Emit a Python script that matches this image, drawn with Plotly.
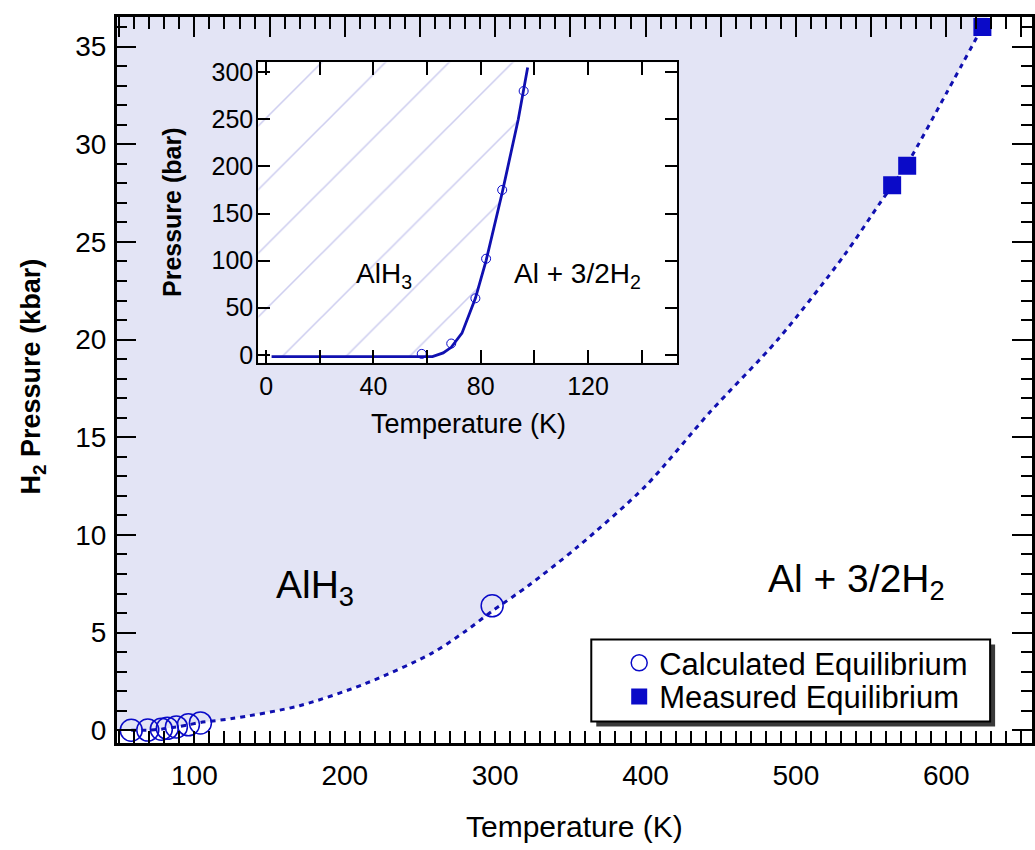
import plotly.graph_objects as go

# ---------------- data ----------------
# main chart (pressure in kbar)
calc_T = [58, 69, 78, 82, 88, 96, 104, 298]
calc_P = [0.001, 0.012, 0.060, 0.102, 0.175, 0.280, 0.38, 6.37]
meas_T = [564, 574, 624]
meas_P = [27.9, 28.9, 36.0]
curve_T = [58, 69, 78, 88, 96, 104, 125, 170, 214, 258, 280, 298, 322, 355, 400,
           443, 488, 532, 556, 574, 600, 624]
curve_P = [0.0, 0.01, 0.06, 0.17, 0.28, 0.4, 0.6, 1.26, 2.4, 3.95, 5.06, 6.1, 7.4, 9.4, 12.5,
           16.3, 20.0, 24.3, 27.0, 29.0, 32.6, 36.0]

# inset (pressure in bar)
inset_calc_T = [58, 69, 78, 82, 88, 96]
inset_calc_P = [1, 12, 60, 102, 175, 280]
inset_curve_T = [2, 62, 66, 69, 73, 78, 82, 88, 94, 97.5]
inset_curve_P = [-2, -2, 2, 8, 23, 60, 100, 172, 250, 305]

main_xticks = [100, 200, 300, 400, 500, 600]
main_yticks = [0, 5, 10, 15, 20, 25, 30, 35]
inset_xticks = [0, 40, 80, 120]
inset_yticks = [0, 50, 100, 150, 200, 250, 300]

# ---------------- styling ----------------
W, H = 1035, 850
FONT = "Liberation Sans, Arial, Helvetica, sans-serif"
BLUE = "#0a0ac8"
LINEBLUE = "#1010b0"
LAVENDER = "#e3e4f5"
HATCH = "#9c9ce0"

XR = [48.3, 657.0]
YR = [-0.66, 36.52]
XR2 = [-2.97, 153.2]
YR2 = [-8.4, 310.5]


def px_x(p):
    return p / W


def px_y(p):
    return 1 - p / H


fig = go.Figure()

# lavender AlH3 region above the equilibrium curve (main)
slope = (curve_P[-1] - curve_P[-2]) / (curve_T[-1] - curve_T[-2])
t_top = curve_T[-1] + (YR[1] - curve_P[-1]) / slope
fig.add_trace(go.Scatter(
    x=[XR[0]] + curve_T + [t_top, XR[0]],
    y=[curve_P[0]] + curve_P + [YR[1], YR[1]],
    mode="lines", line=dict(width=0), fill="toself", fillcolor=LAVENDER,
    hoverinfo="skip", showlegend=False, xaxis="x", yaxis="y"))

# dashed equilibrium curve
fig.add_trace(go.Scatter(
    x=curve_T, y=curve_P, mode="lines",
    line=dict(color=LINEBLUE, width=3, dash="5px,5px", shape="spline", smoothing=0.8),
    hoverinfo="skip", showlegend=False, xaxis="x", yaxis="y"))

fig.add_trace(go.Scatter(
    x=calc_T, y=calc_P, mode="markers", name="Calculated Equilibrium",
    marker=dict(symbol="circle-open", size=22, color=BLUE, line=dict(width=1.5, color=BLUE)),
    xaxis="x", yaxis="y", legend="legend"))

fig.add_trace(go.Scatter(
    x=meas_T, y=meas_P, mode="markers", name="Measured Equilibrium",
    marker=dict(symbol="square", size=18, color=BLUE, line=dict(width=0)),
    xaxis="x", yaxis="y", legend="legend2"))

# empty trace to create the top tick axis
fig.add_trace(go.Scatter(x=[], y=[], showlegend=False, hoverinfo="skip",
                         xaxis="x3", yaxis="y"))

# ---------------- inset ----------------
slope2 = (inset_curve_P[-1] - inset_curve_P[-2]) / (inset_curve_T[-1] - inset_curve_T[-2])
t_top2 = inset_curve_T[-1] + (YR2[1] - inset_curve_P[-1]) / slope2
fig.add_trace(go.Scatter(
    x=[XR2[0], XR2[0]] + inset_curve_T + [t_top2],
    y=[YR2[1], inset_curve_P[0]] + inset_curve_P + [YR2[1]],
    mode="lines", line=dict(width=0), fill="toself", fillcolor="rgba(0,0,0,0)",
    fillpattern=dict(shape="/", fgcolor=HATCH, bgcolor="white", size=45, solidity=0.035),
    hoverinfo="skip", showlegend=False, xaxis="x2", yaxis="y2"))

fig.add_trace(go.Scatter(
    x=inset_curve_T, y=inset_curve_P, mode="lines",
    line=dict(color=LINEBLUE, width=2.8),
    hoverinfo="skip", showlegend=False, xaxis="x2", yaxis="y2"))

fig.add_trace(go.Scatter(
    x=inset_calc_T, y=inset_calc_P, mode="markers",
    marker=dict(symbol="circle-open", size=9, color=BLUE, line=dict(width=1, color=BLUE)),
    hoverinfo="skip", showlegend=False, xaxis="x2", yaxis="y2"))

axis_common = dict(showgrid=False, zeroline=False, showline=True, linecolor="black",
                   ticks="inside", tickcolor="black")

legend_common = dict(xanchor="left", yanchor="middle", bgcolor="rgba(0,0,0,0)",
                     borderwidth=0, itemwidth=30,
                     font=dict(size=31, family=FONT, color="black"), itemsizing="trace")

fig.update_layout(
    width=W, height=H,
    margin=dict(l=0, r=0, t=0, b=0),
    paper_bgcolor="white", plot_bgcolor="white",
    font=dict(family=FONT, color="black"),
    xaxis=dict(**axis_common, domain=[px_x(117), 1.0], range=XR, linewidth=2.5,
               mirror=True, tickvals=main_xticks, ticklen=12, tickwidth=2,
               minor=dict(dtick=10, ticks="inside", ticklen=12, tickwidth=2, tickcolor="black"),
               tickfont=dict(size=28), ticklabelstandoff=5, anchor="y"),
    xaxis3=dict(showgrid=False, zeroline=False, showline=False, overlaying="x",
                side="top", anchor="y", range=XR, ticks="inside", tickcolor="black",
                tick0=0, dtick=50, ticklen=20, tickwidth=2, showticklabels=False,
                minor=dict(dtick=10, ticks="inside", ticklen=12, tickwidth=2, tickcolor="black")),
    yaxis=dict(**axis_common, domain=[px_y(748), px_y(13)], range=YR, linewidth=2.5,
               mirror="ticks", tickvals=main_yticks, ticklen=20, tickwidth=2,
               minor=dict(dtick=1, ticks="inside", ticklen=11, tickwidth=2, tickcolor="black"),
               tickfont=dict(size=28), ticklabelstandoff=2, anchor="x"),
    xaxis2=dict(**axis_common, domain=[px_x(259), px_x(679)], range=XR2, linewidth=2,
                mirror="ticks", tickvals=inset_xticks, ticklen=13, tickwidth=2,
                minor=dict(dtick=20, ticks="inside", ticklen=13, tickwidth=2, tickcolor="black"),
                tickfont=dict(size=25), ticklabelstandoff=0, anchor="y2"),
    yaxis2=dict(**axis_common, domain=[px_y(363), px_y(59)], range=YR2, linewidth=2,
                mirror="ticks", tickvals=inset_yticks, ticklen=12, tickwidth=2,
                tickfont=dict(size=25), ticklabelstandoff=-2, anchor="x2"),
    legend=dict(**legend_common, x=px_x(621), y=px_y(667)),
    legend2=dict(**legend_common, x=px_x(621), y=px_y(701)),
    showlegend=True,
)

# legend frame with drop shadow
fig.add_shape(type="rect", xref="paper", yref="paper",
              x0=px_x(598), x1=px_x(998), y0=px_y(731), y1=px_y(648),
              fillcolor="#3a3a3a", line=dict(width=0), layer="above")
fig.add_shape(type="rect", xref="paper", yref="paper",
              x0=px_x(593), x1=px_x(993), y0=px_y(726), y1=px_y(643),
              fillcolor="white", line=dict(width=2, color="black"), layer="above")

annotations = [
    dict(text="Temperature (K)", x=px_x(576), y=px_y(832), xref="paper", yref="paper",
         showarrow=False, font=dict(size=30), xanchor="center", yanchor="middle"),
    dict(text="<b>H<sub>2</sub> Pressure (kbar)</b>", x=px_x(33), y=px_y(377), xref="paper",
         yref="paper", showarrow=False, textangle=-90, font=dict(size=27),
         xanchor="center", yanchor="middle"),
    dict(text="Temperature (K)", x=px_x(470), y=px_y(425), xref="paper", yref="paper",
         showarrow=False, font=dict(size=27), xanchor="center", yanchor="middle"),
    dict(text="<b>Pressure (bar)</b>", x=px_x(172), y=px_y(211), xref="paper", yref="paper",
         showarrow=False, textangle=-90, font=dict(size=25),
         xanchor="center", yanchor="middle"),
    dict(text="AlH<sub>3</sub>", x=180, y=7.3, xref="x", yref="y", showarrow=False,
         font=dict(size=39)),
    dict(text="Al + 3/2H<sub>2</sub>", x=540, y=7.6, xref="x", yref="y", showarrow=False,
         font=dict(size=39)),
    dict(text="AlH<sub>3</sub>", x=44, y=84, xref="x2", yref="y2", showarrow=False,
         font=dict(size=28)),
    dict(text="Al + 3/2H<sub>2</sub>", x=116, y=84, xref="x2", yref="y2", showarrow=False,
         font=dict(size=28)),
]
fig.update_layout(annotations=annotations)

fig.write_html("out.html")
